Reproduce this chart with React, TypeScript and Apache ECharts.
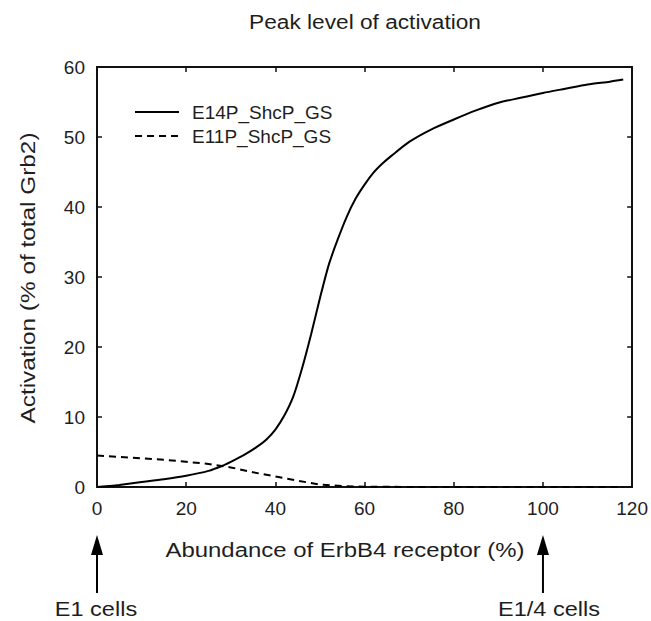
import React, { useEffect, useRef } from "react";
import * as echarts from "echarts";

const titleText = "Peak level of activation";
const xAxisName = "Abundance of ErbB4 receptor (%)";
const yAxisName = "Activation (% of total Grb2)";
const seriesNames = ["E14P_ShcP_GS", "E11P_ShcP_GS"];
const arrowLabels = ["E1 cells", "E1/4 cells"];
const arrowXs = [0, 100];

const e14X = [0, 2, 5, 10, 15, 20, 25, 28, 30, 33, 36, 38, 40, 42, 44, 46, 48, 50, 52, 54, 56, 58, 60, 62, 64, 66, 70, 75, 80, 85, 90, 95, 100, 105, 110, 115, 118];
const e14Y = [0, 0.1, 0.3, 0.7, 1.1, 1.6, 2.3, 3.0, 3.6, 4.6, 5.8, 6.8, 8.2, 10.2, 12.9, 17.0, 21.8, 27.0, 31.8, 35.4, 38.6, 41.2, 43.2, 44.9, 46.2, 47.3, 49.3, 51.1, 52.5, 53.8, 54.9, 55.6, 56.3, 56.9, 57.5, 57.9, 58.2];

const e11X = [0, 5, 10, 15, 20, 25, 30, 35, 40, 45, 50, 55, 60, 70, 80, 90, 100, 110, 118];
const e11Y = [4.5, 4.3, 4.1, 3.9, 3.6, 3.3, 2.8, 2.1, 1.5, 0.9, 0.35, 0.12, 0.04, 0.01, 0, 0, 0, 0, 0];

const xTicks = { min: 0, max: 120, interval: 20 };
const yTicks = { min: 0, max: 60, interval: 10 };

const FONT = "'Liberation Sans', Arial, sans-serif";
const INK = "#1e1e1e";

export default function App() {
  const ref = useRef<HTMLDivElement>(null);
  useEffect(() => {
    if (!ref.current) return;
    const chart = echarts.init(ref.current, null, { renderer: "svg" });
    const axisLine = { show: true, onZero: false, lineStyle: { color: "#111", width: 2 } };
    const tick = { show: true, inside: true, length: 5, lineStyle: { color: "#111", width: 1.5 } };
    const label = { fontSize: 19, color: INK, fontFamily: FONT, margin: 12 };
    chart.setOption({
      animation: false,
      backgroundColor: "#fff",
      textStyle: { fontFamily: FONT },
      grid: { left: 97, right: 18, top: 67, bottom: 134, containLabel: false },
      legend: {
        orient: "vertical",
        left: 134,
        top: 102,
        padding: 0,
        itemWidth: 44,
        itemHeight: 14,
        itemGap: 4,
        itemStyle: { opacity: 0 },
        textStyle: { fontSize: 19, color: INK, fontFamily: FONT, lineHeight: 20, padding: [0, 0, 0, 8] },
        data: seriesNames,
      },
      xAxis: [
        { type: "value", position: "bottom", ...xTicks, axisLine, axisTick: tick, axisLabel: label, splitLine: { show: false } },
        { type: "value", position: "top", ...xTicks, axisLine, axisTick: tick, axisLabel: { show: false }, splitLine: { show: false } },
      ],
      yAxis: [
        { type: "value", position: "left", ...yTicks, axisLine, axisTick: tick, axisLabel: label, splitLine: { show: false } },
        { type: "value", position: "right", ...yTicks, axisLine, axisTick: tick, axisLabel: { show: false }, splitLine: { show: false } },
      ],
      series: [
        {
          name: seriesNames[0],
          type: "line",
          showSymbol: false,
          symbol: "none",
          smooth: 0.25,
          data: e14X.map((x, i) => [x, e14Y[i]]),
          lineStyle: { color: "#000", width: 2 },
          itemStyle: { color: "#000" },
        },
        {
          name: seriesNames[1],
          type: "line",
          showSymbol: false,
          symbol: "none",
          data: e11X.map((x, i) => [x, e11Y[i]]),
          lineStyle: { color: "#000", width: 2, type: [7, 5] },
          itemStyle: { color: "#000" },
        },
      ],
    });

    const txt = (text: string, x: number, y: number, sx: number, rot = 0) => ({
      type: "text",
      x,
      y,
      rotation: rot,
      scaleX: sx,
      style: { text, font: `21px ${FONT}`, fill: INK, textAlign: "center", textVerticalAlign: "middle" },
    });
    const graphics: any[] = [
      txt(titleText, 365, 22, 1.08),
      txt(xAxisName, 345, 550, 1.14),
      txt(yAxisName, 28, 278, 1.16, Math.PI / 2),
    ];
    arrowXs.forEach((xv, i) => {
      const px = chart.convertToPixel({ xAxisIndex: 0 }, xv) as number;
      graphics.push(
        { type: "line", shape: { x1: px, y1: 550, x2: px, y2: 593 }, style: { stroke: "#000", lineWidth: 2 } },
        { type: "polygon", shape: { points: [[px, 535], [px - 6, 555], [px + 6, 555]] }, style: { fill: "#000" } },
        txt(arrowLabels[i], px + (i === 0 ? -1 : 6), 609, 1.12)
      );
    });
    chart.setOption({ graphic: graphics });
    return () => chart.dispose();
  }, []);
  return <div ref={ref} style={{ position: "fixed", left: 0, top: 0, width: 651, height: 621 }} />;
}
